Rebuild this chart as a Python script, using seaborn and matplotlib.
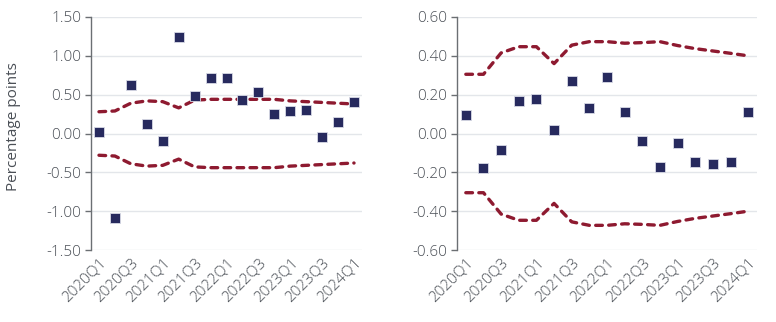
import matplotlib
matplotlib.use("Agg")
import matplotlib.pyplot as plt
import seaborn as sns
import pandas as pd
import numpy as np

quarters = ["2020Q1", "2020Q2", "2020Q3", "2020Q4",
            "2021Q1", "2021Q2", "2021Q3", "2021Q4",
            "2022Q1", "2022Q2", "2022Q3", "2022Q4",
            "2023Q1", "2023Q2", "2023Q3", "2023Q4",
            "2024Q1"]

left_points = [0.02, -1.09, 0.63, 0.12, -0.10, 1.24, 0.48, 0.72, 0.72,
               0.43, 0.54, 0.25, 0.29, 0.30, -0.05, 0.15, 0.41]
left_band = [0.28, 0.29, 0.39, 0.42, 0.41, 0.33, 0.43, 0.44, 0.44,
             0.44, 0.44, 0.44, 0.42, 0.41, 0.40, 0.39, 0.38]

right_points = [0.096, -0.18, -0.086, 0.165, 0.18, 0.017, 0.27, 0.13, 0.29,
                0.11, -0.04, -0.175, -0.05, -0.147, -0.156, -0.149, 0.11]
right_band = [0.305, 0.305, 0.415, 0.447, 0.447, 0.36, 0.455, 0.473, 0.473,
              0.465, 0.468, 0.473, 0.453, 0.437, 0.425, 0.413, 0.40]

left_ticks = [-1.5, -1.0, -0.5, 0.0, 0.5, 1.0, 1.5]
right_ticks = [-0.6, -0.4, -0.2, 0.0, 0.2, 0.4, 0.6]

NAVY = "#272a5e"
RED = "#8e1a30"
TEXT = "#4a4f56"
GRID = "#e3e6ea"
FS = 11

sns.set_theme(style="white")
plt.rcParams["font.family"] = ["Open Sans", "DejaVu Sans"]
plt.rcParams["font.weight"] = 300

fig = plt.figure(figsize=(7.76, 3.22), dpi=100)
ax_l = fig.add_axes([91 / 776, 72 / 322, 271 / 776, 233 / 322])
ax_r = fig.add_axes([457 / 776, 72 / 322, 300 / 776, 233 / 322])


def draw(ax, points, band, ticks):
    x = np.arange(len(quarters))
    df = pd.DataFrame({"x": x, "value": points,
                       "upper": band, "lower": [-b for b in band]})
    for col in ("upper", "lower"):
        sns.lineplot(data=df, x="x", y=col, ax=ax, color=RED, lw=2.4,
                     zorder=2)
        line = ax.lines[-1]
        line.set_dashes([2.0, 1.9])
        line.set_dash_capstyle("round")
        line.set_solid_joinstyle("round")
    sns.scatterplot(data=df, x="x", y="value", ax=ax, marker="s", s=55,
                    color=NAVY, edgecolor="#d8dae6", linewidth=0.6, zorder=3)
    ax.set_xlim(-0.5, len(quarters) - 0.5)
    ax.set_ylim(ticks[0], ticks[-1])
    ax.set_yticks(ticks)
    ax.set_yticklabels([f"{t:.2f}" for t in ticks])
    ax.set_xticks(x[::2])
    ax.set_xticklabels(quarters[::2], rotation=45, ha="right",
                       rotation_mode="anchor")
    ax.set_xlabel("")
    ax.set_ylabel("")
    for t in ticks:
        ax.axhline(t, color=GRID, lw=1.0, zorder=0)
    for s in ("top", "right", "bottom"):
        ax.spines[s].set_visible(False)
    ax.spines["left"].set_color("#6b6f73")
    ax.spines["left"].set_linewidth(1.0)
    ax.tick_params(axis="y", length=4, width=1.0, color="#6b6f73",
                   labelsize=FS, labelcolor=TEXT, pad=3, left=True)
    ax.tick_params(axis="x", length=0, labelsize=FS, labelcolor=TEXT, pad=4)
    ax.grid(False)


draw(ax_l, left_points, left_band, left_ticks)
draw(ax_r, right_points, right_band, right_ticks)
ax_l.set_ylabel("Percentage points", color=TEXT, fontsize=FS)
ax_l.yaxis.set_label_coords(-70 / 271, 0.53)

fig.savefig("out.png", dpi=100)
